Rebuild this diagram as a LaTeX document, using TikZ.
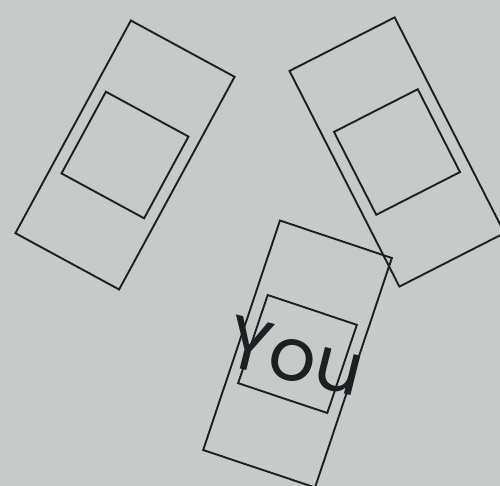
\documentclass[tikz,border=0pt]{standalone}
\usepackage{fontspec}
\newfontfamily\youfont{Poppins}
\definecolor{paper}{RGB}{199,202,201}
\definecolor{ink}{RGB}{30,31,34}
\tikzset{
  car/.style={draw=ink,line width=1.9pt,rectangle,inner sep=0pt,minimum width=118pt,minimum height=242pt},
  roof/.style={draw=ink,line width=1.9pt,rectangle,inner sep=0pt,minimum width=94pt,minimum height=93pt}
}
\begin{document}
\begin{tikzpicture}[x=1pt,y=-1pt]
\useasboundingbox (0,0) rectangle (500,486);
\clip (0,0) rectangle (500,486);
\fill[paper] (0,0) rectangle (500,486);
% three cars seen from above
\foreach \nm/\x/\y/\ang in {carL/125/155/-28.5,carR/397/152/27,carY/297.5/354/-18.5}{
  \node[car,rotate=\ang] (\nm) at (\x,\y) {};
  \node[roof,rotate=\ang] (\nm-roof) at (\nm.center) {};
}
\node[font=\youfont\fontsize{74}{74}\selectfont,text=ink,rotate=-14] (you) at (296,356) {You};
\end{tikzpicture}
\end{document}
